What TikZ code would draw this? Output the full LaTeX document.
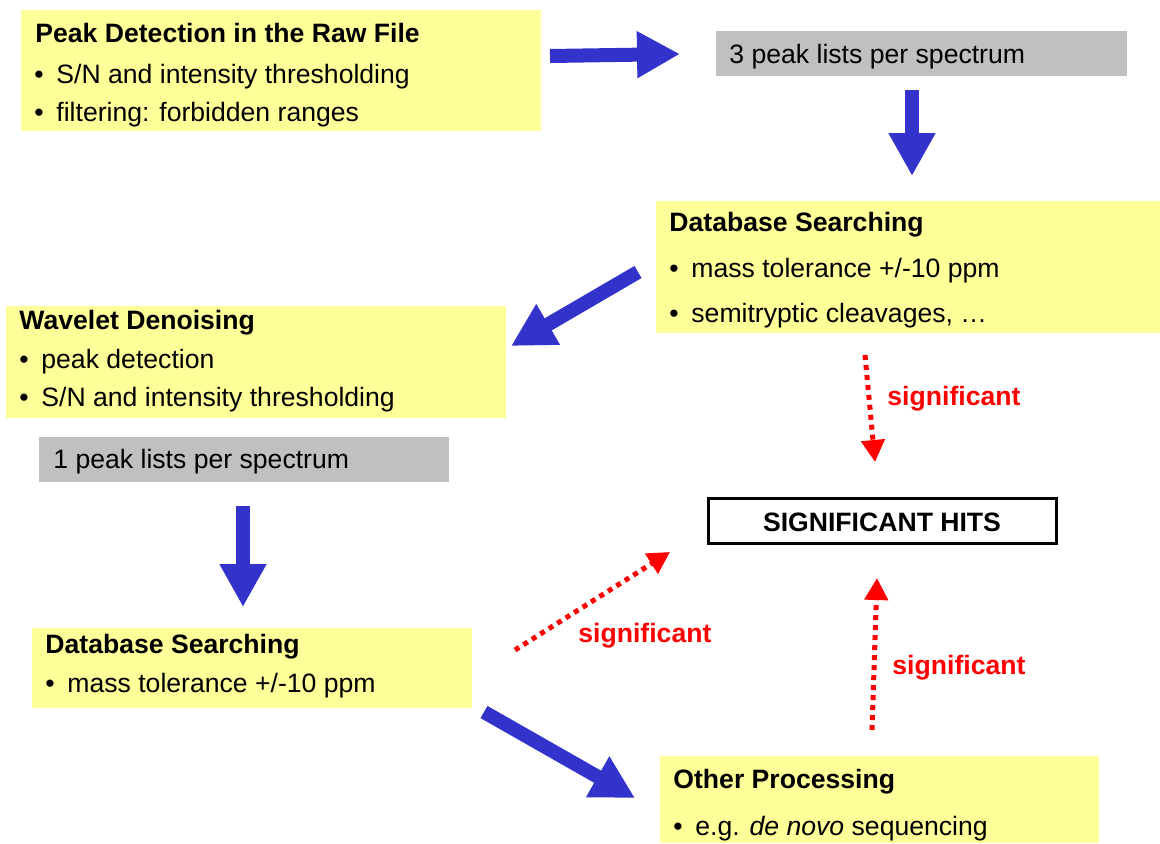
\documentclass[tikz,border=0pt]{standalone}
\usepackage{fontspec}
\setmainfont{Liberation Sans}
\usetikzlibrary{arrows.meta,fit}

\definecolor{panelyellow}{HTML}{FFFF99}
\definecolor{listgrey}{HTML}{C0C0C0}
\definecolor{flowblue}{HTML}{3333CC}
\definecolor{hitred}{HTML}{FF0000}

\tikzset{
  ybox/.style={fill=panelyellow, draw=none, inner sep=0pt},
  gbox/.style={fill=listgrey, draw=none, inner sep=0pt},
  hitbox/.style={fill=white, draw=black, line width=1.5pt, inner sep=0pt},
  txt/.style={anchor=base west, inner sep=0pt, font=\fontsize{13.3}{16}\selectfont},
  ttl/.style={txt, font=\fontsize{13.3}{16}\selectfont\bfseries},
  sig/.style={anchor=base west, inner sep=0pt, text=hitred, font=\fontsize{13.3}{16}\selectfont\bfseries},
  fat/.style={draw=flowblue, line width=7pt, -{Triangle[width=22pt,length=21.5pt]}},
  dots/.style={draw=hitred, line width=2.5pt, dash pattern=on 2.5pt off 2.5pt, -{Triangle[width=11.5pt,length=11pt]}}
}

\begin{document}
\begin{tikzpicture}[x=0.5pt, y=-0.5pt]
\useasboundingbox (0,0) rectangle (1160,843);

% panels
\node[ybox, fit={(21,10) (541,131)}] (peak) {};
\node[gbox, fit={(716,31) (1127,76)}] (three) {};
\node[ybox, fit={(656,201) (1160,333)}] (dbtop) {};
\node[ybox, fit={(6,306) (506,418)}] (wave) {};
\node[gbox, fit={(39,437) (449,482)}] (one) {};
\node[hitbox, fit={(708.5,498.5) (1056.5,543.5)}] (hits) {};
\node[ybox, fit={(32,628) (472,708)}] (dbbot) {};
\node[ybox, fit={(660,756) (1099,843)}] (other) {};

% panel texts
\node[ttl] at (35,42) {Peak Detection in the Raw File};
\node[txt] at (34,83) {•};
\node[txt] at (56,83) {S/N and intensity thresholding};
\node[txt] at (34,121) {•};
\node[txt] at (56,121) {filtering: forbidden ranges};

\node[txt] at (729,63) {3 peak lists per spectrum};

\node[ttl] at (669,231) {Database Searching};
\node[txt] at (669,277) {•};
\node[txt] at (691,277) {mass tolerance +/-10 ppm};
\node[txt] at (669,322) {•};
\node[txt] at (691,322) {semitryptic cleavages, …};

\node[ttl] at (19,329) {Wavelet Denoising};
\node[txt] at (19,368) {•};
\node[txt] at (41,368) {peak detection};
\node[txt] at (19,406) {•};
\node[txt] at (41,406) {S/N and intensity thresholding};

\node[txt] at (53,468) {1 peak lists per spectrum};

\node[ttl, anchor=base] at (882,531) {SIGNIFICANT HITS};

\node[ttl] at (45,653) {Database Searching};
\node[txt] at (45,692) {•};
\node[txt] at (67,692) {mass tolerance +/-10 ppm};

\node[ttl] at (673,788) {Other Processing};
\node[txt] at (673,835) {•};
\node[txt] at (695,835) {e.g. \textit{de novo} sequencing};

% ends of the flow arrows
\coordinate (a1s) at (550,56);   \coordinate (a1e) at (680,54);
\coordinate (a2s) at (912,90);   \coordinate (a2e) at (912,176);
\coordinate (a3s) at (638,272);  \coordinate (a3e) at (511,346);
\coordinate (a4s) at (243,506);  \coordinate (a4e) at (243,607);
\coordinate (a5s) at (484,712);  \coordinate (a5e) at (635,798);

\draw[fat] (a1s) -- (a1e);
\draw[fat] (a2s) -- (a2e);
\draw[fat] (a3s) -- (a3e);
\draw[fat] (a4s) -- (a4e);
\draw[fat] (a5s) -- (a5e);

% significance links
\coordinate (r1s) at (865,355);  \coordinate (r1e) at (875,462);
\coordinate (r2s) at (515,650);  \coordinate (r2e) at (670,552);
\coordinate (r3s) at (872,730);  \coordinate (r3e) at (877,578);

\draw[dots] (r1s) -- (r1e);
\draw[dots] (r2s) -- (r2e);
\draw[dots] (r3s) -- (r3e);

\node[sig] (s1) at (887,405) {significant};
\node[sig] (s2) at (578,642) {significant};
\node[sig] (s3) at (892,674) {significant};
\end{tikzpicture}
\end{document}
